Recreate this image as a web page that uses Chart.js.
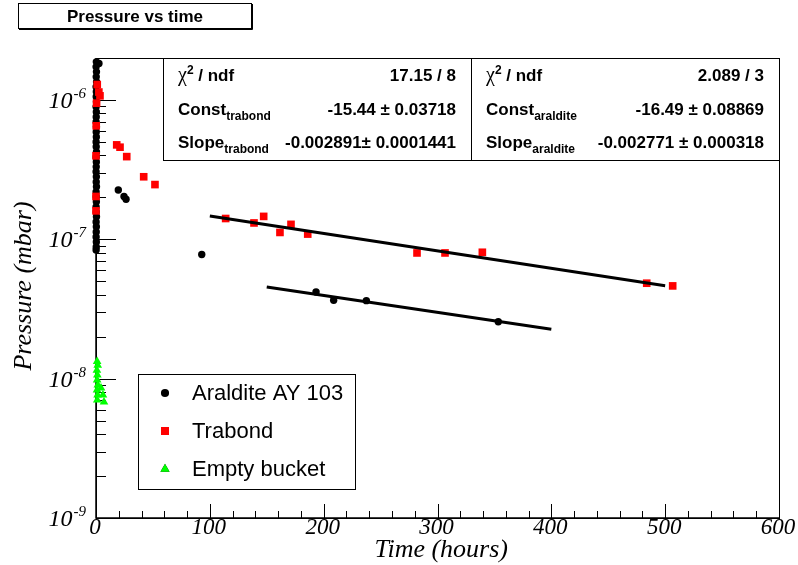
<!DOCTYPE html>
<html>
<head>
<meta charset="utf-8">
<script src="https://cdn.jsdelivr.net/npm/chart.js@4/dist/chart.umd.min.js"></script>
<style>
html,body{margin:0;padding:0;background:#fff;}
canvas{display:block;}
</style>
</head>
<body>
<canvas id="c" width="798" height="565"></canvas>
<script>
// ---------------- data ----------------
const araldTime = [0.3,0.1,0.4,0.2,0.5,0.1,0.3,0.2,0.4,0.1,0.3,0.2,0.1,0.4,0.2,0.3,0.1,0.2,0.4,0.1,0.3,0.2,0.1,0.3,0.2,0.4,0.1,0.2,0.3,0.1,0.2,0.4,0.1,0.3,0.2,0.1,0.3,0.2,0.1,
  2.6,19.6,24.6,26.4,92.9,193.3,208.8,237.5,353.4];
const araldPressure = [1.877e-6,1.728e-6,1.591e-6,1.465e-6,1.349e-6,1.242e-6,1.144e-6,1.053e-6,9.69e-7,8.92e-7,8.21e-7,7.56e-7,6.96e-7,6.41e-7,5.90e-7,5.43e-7,5.00e-7,4.61e-7,4.24e-7,3.90e-7,3.59e-7,3.31e-7,3.05e-7,2.81e-7,2.58e-7,2.38e-7,2.19e-7,2.02e-7,1.86e-7,1.71e-7,1.57e-7,1.45e-7,1.33e-7,1.23e-7,1.13e-7,1.04e-7,9.58e-8,8.82e-8,8.39e-8,
  1.83e-6,2.26e-7,2.03e-7,1.94e-7,7.77e-8,4.19e-8,3.65e-8,3.63e-8,2.56e-8];

const trabTime = [1.1,2.5,3.5,0.5,0.2,0.0,0.0,0.0,18.2,21.1,27.0,41.9,51.8,113.9,138.8,147.3,161.6,171.3,186.0,282.0,306.6,339.4,483.8,506.6];
const trabPressure = [1.29e-6,1.14e-6,1.07e-6,9.48e-7,6.52e-7,3.97e-7,2.03e-7,1.60e-7,4.76e-7,4.58e-7,3.92e-7,2.81e-7,2.47e-7,1.41e-7,1.31e-7,1.46e-7,1.12e-7,1.28e-7,1.09e-7,7.98e-8,7.98e-8,8.07e-8,4.84e-8,4.63e-8];

const emptyTime = [1.0,1.5,0.8,1.2,1.0,1.6,0.9,1.4,1.1,4.4,6.1,7.0];
const emptyPressure = [1.33e-8,1.25e-8,1.15e-8,1.06e-8,9.79e-9,9.01e-9,8.30e-9,7.64e-9,7.03e-9,8.57e-9,7.64e-9,6.80e-9];

// fit lines (end points)
const trabFitTime = [100,500];
const trabFitPressure = [1.47e-7,4.64e-8];
const araldFitTime = [150,400];
const araldFitPressure = [4.54e-8,2.26e-8];

// axis ticks
const xTickValues = [0,100,200,300,400,500,600];
const xTickLabels = ['0','100','200','300','400','500','600'];
const yDecadeExponents = [-9,-8,-7,-6];
const yTickLabelBase = '10';
const yTickLabelExp = ['-9','-8','-7','-6'];

const seriesNames = ['Araldite AY 103','Trabond','Empty bucket'];
const titleText = 'Pressure vs time';
const xTitle = 'Time (hours)';
const yTitle = 'Pressure (mbar)';

const statsTrabond = [
  {label:[['χ','chi'],['2','sup'],[' / ndf','b']], value:'17.15 / 8'},
  {label:[['Const','b'],['trabond','sub']], value:'-15.44 ± 0.03718'},
  {label:[['Slope','b'],['trabond','sub']], value:'-0.002891± 0.0001441'}
];
const statsAraldite = [
  {label:[['χ','chi'],['2','sup'],[' / ndf','b']], value:'2.089 / 3'},
  {label:[['Const','b'],['araldite','sub']], value:'-16.49 ± 0.08869'},
  {label:[['Slope','b'],['araldite','sub']], value:'-0.002771 ± 0.000318'}
];

const zip = (xs, ys) => xs.map((x, i) => ({x: x, y: ys[i]}));

// ---------------- helpers ----------------
const SANS = '"Liberation Sans", Arial, Helvetica, sans-serif';
const SERIF = '"Liberation Serif", "Times New Roman", serif';
const segFont = {
  b: {font: 'bold 17px ' + SANS, dy: 0},
  sub: {font: 'bold 12px ' + SANS, dy: 5},
  sup: {font: 'bold 12px ' + SANS, dy: -7},
  chi: {font: '20px ' + SERIF, dy: 0}
};
function drawSegs(ctx, x, y, segs) {
  ctx.textAlign = 'left';
  ctx.textBaseline = 'alphabetic';
  let cx = x;
  for (const [t, k] of segs) {
    const f = segFont[k];
    ctx.font = f.font;
    ctx.fillText(t, cx, y + f.dy);
    cx += ctx.measureText(t).width;
  }
}

const decor = {
  id: 'decor',
  beforeDatasetsDraw(chart) {
    const ctx = chart.ctx;
    const xs = chart.scales.x, ys = chart.scales.y;
    const a = chart.chartArea;
    ctx.save();
    ctx.strokeStyle = '#000';
    ctx.fillStyle = '#000';
    // frame
    ctx.lineWidth = 1;
    ctx.strokeRect(a.left + 0.5, a.top + 0.5, a.right - a.left, a.bottom - a.top);
    ctx.lineWidth = 1.5;
    ctx.beginPath();
    ctx.moveTo(a.left, a.top); ctx.lineTo(a.left, a.bottom); ctx.lineTo(a.right, a.bottom);
    ctx.stroke();
    // x ticks
    ctx.lineWidth = 1;
    ctx.beginPath();
    for (let v = xs.min; v <= xs.max + 1e-9; v += 20) {
      const px = Math.round(xs.getPixelForValue(v)) + 0.5;
      const major = Math.abs(v % 100) < 1e-9;
      ctx.moveTo(px, a.bottom);
      ctx.lineTo(px, a.bottom - (major ? 14 : 7));
    }
    // y ticks
    for (const e of yDecadeExponents) {
      for (let m = 1; m <= 9; m++) {
        const v = m * Math.pow(10, e);
        if (v > ys.max * 1.0001) continue;
        const py = Math.round(ys.getPixelForValue(v)) + 0.5;
        ctx.moveTo(a.left, py);
        ctx.lineTo(a.left + (m === 1 ? 20 : 10), py);
      }
    }
    ctx.stroke();
    // x tick labels
    ctx.font = 'italic 23px ' + SERIF;
    ctx.textAlign = 'center';
    ctx.textBaseline = 'alphabetic';
    xTickValues.forEach((v, i) => {
      ctx.fillText(xTickLabels[i], xs.getPixelForValue(v) - 1, a.bottom + 16);
    });
    // y tick labels
    yDecadeExponents.forEach((e, i) => {
      const py = ys.getPixelForValue(Math.pow(10, e));
      ctx.textAlign = 'right';
      ctx.font = 'italic 15px ' + SERIF;
      const expRight = a.left - 10;
      ctx.fillText(yTickLabelExp[i], expRight, py - 2);
      const ew = ctx.measureText(yTickLabelExp[i]).width;
      ctx.font = 'italic 24px ' + SERIF;
      ctx.fillText(yTickLabelBase, expRight - ew - 1, py + 8);
    });
    // axis titles
    ctx.font = 'italic 26px ' + SERIF;
    ctx.textAlign = 'right';
    ctx.fillText(xTitle, 508, 557);
    ctx.save();
    ctx.translate(31, 286);
    ctx.rotate(-Math.PI / 2);
    ctx.textAlign = 'center';
    ctx.fillText(yTitle, 0, 0);
    ctx.restore();
    ctx.restore();
  },
  afterDatasetsDraw(chart) {
    const ctx = chart.ctx;
    const a = chart.chartArea;
    ctx.save();
    ctx.fillStyle = '#000';
    ctx.strokeStyle = '#000';
    ctx.lineWidth = 1;
    // stats boxes
    const boxes = [
      {x0: 163, x1: 471, rows: statsTrabond, tx: 178, vx: 456},
      {x0: 471, x1: a.right, rows: statsAraldite, tx: 486, vx: 764}
    ];
    const rowsY = [81, 115, 148];
    for (const b of boxes) {
      ctx.fillStyle = '#fff';
      ctx.fillRect(b.x0, a.top, b.x1 - b.x0, 160 - a.top);
      ctx.strokeRect(b.x0 + 0.5, a.top + 0.5, b.x1 - b.x0, 160 - a.top);
      ctx.fillStyle = '#000';
      b.rows.forEach((r, i) => {
        drawSegs(ctx, b.tx, rowsY[i], r.label);
        ctx.font = 'bold 17px ' + SANS;
        ctx.textAlign = 'right';
        ctx.fillText(r.value, b.vx, rowsY[i]);
      });
    }
    // legend
    ctx.fillStyle = '#fff';
    ctx.fillRect(138, 374, 217, 115);
    ctx.strokeRect(138.5, 374.5, 217, 115);
    const ds = chart.data.datasets;
    const legendDs = [ds[3], ds[2], ds[4]];
    const ly = [393, 431, 469];
    legendDs.forEach((d, i) => {
      Chart.helpers.drawPoint(ctx, {
        pointStyle: d.pointStyle, radius: d.pointRadius * (i === 0 ? 1.1 : 1.05), rotation: 0, borderWidth: 0
      }, 165, ly[i]);
      ctx.fillStyle = d.backgroundColor;
      ctx.fill();
      ctx.fillStyle = '#000';
      ctx.font = '22px ' + SANS;
      ctx.textAlign = 'left';
      ctx.textBaseline = 'middle';
      ctx.fillText(seriesNames[i], 192, ly[i] + 1);
    });
    // title box
    ctx.textBaseline = 'alphabetic';
    ctx.fillStyle = '#fff';
    ctx.fillRect(18, 3, 234, 26);
    ctx.fillStyle = '#000';
    ctx.strokeRect(18.5, 3.5, 233, 25);
    ctx.beginPath();
    ctx.moveTo(19, 29.5); ctx.lineTo(252.5, 29.5); ctx.lineTo(252.5, 4);
    ctx.stroke();
    ctx.font = 'bold 17px ' + SANS;
    ctx.textAlign = 'center';
    ctx.fillText(titleText, 135, 22);
    ctx.restore();
  }
};

new Chart(document.getElementById('c'), {
  type: 'scatter',
  data: {
    datasets: [
      {label: 'trabond fit', type: 'line', data: zip(trabFitTime, trabFitPressure), showLine: true,
       borderColor: '#000', borderWidth: 3, pointRadius: 0, fill: false, clip: false},
      {label: 'araldite fit', type: 'line', data: zip(araldFitTime, araldFitPressure), showLine: true,
       borderColor: '#000', borderWidth: 3, pointRadius: 0, fill: false, clip: false},
      {label: seriesNames[1], data: zip(trabTime, trabPressure), pointStyle: 'rect', pointRadius: 5.4,
       backgroundColor: '#ff0000', borderColor: '#ff0000', borderWidth: 0, clip: false},
      {label: seriesNames[0], data: zip(araldTime, araldPressure), pointStyle: 'circle', pointRadius: 3.7,
       backgroundColor: '#000', borderColor: '#000', borderWidth: 0, clip: false},
      {label: seriesNames[2], data: zip(emptyTime, emptyPressure), pointStyle: 'triangle', pointRadius: 5,
       backgroundColor: '#00ff00', borderColor: '#00ff00', borderWidth: 0, clip: false}
    ]
  },
  options: {
    responsive: false,
    animation: false,
    devicePixelRatio: 1,
    layout: {padding: {left: 96, right: 19, top: 58, bottom: 47}},
    scales: {
      x: {type: 'linear', min: 0, max: 600, display: false},
      y: {type: 'logarithmic', min: 1e-9, max: 2e-6, display: false}
    },
    plugins: {legend: {display: false}, tooltip: {enabled: false}},
    events: []
  },
  plugins: [decor]
});
</script>
</body>
</html>
